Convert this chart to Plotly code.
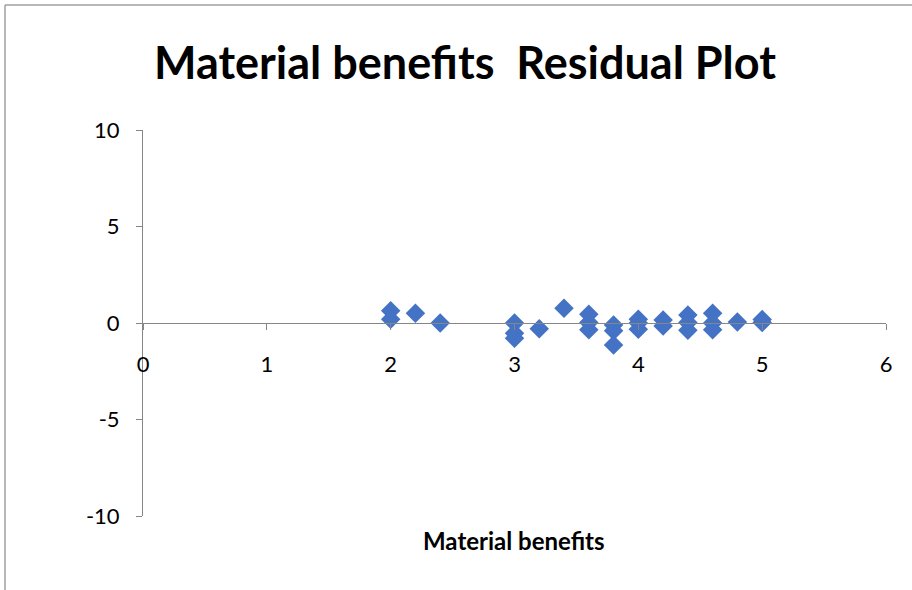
import plotly.graph_objects as go

# Material benefits values and their regression residuals
material_benefits = [2.0, 2.0, 2.2, 2.4, 3.0, 3.0, 3.0, 3.2, 3.4,
                     3.6, 3.6, 3.6, 3.8, 3.8, 3.8, 4.0, 4.0, 4.0,
                     4.2, 4.2, 4.4, 4.4, 4.4, 4.6, 4.6, 4.6, 4.8, 5.0, 5.0]
residuals = [0.64, 0.19, 0.5, 0.0, 0.0, -0.53, -0.79, -0.3, 0.76,
             0.45, 0.02, -0.35, -0.1, -0.4, -1.14, 0.19, 0.0, -0.33,
             0.16, -0.16, 0.41, 0.03, -0.38, 0.5, 0.0, -0.35, 0.05, 0.18, 0.02]

x_ticks = [0, 1, 2, 3, 4, 5, 6]
y_ticks = [-10, -5, 0, 5, 10]

W, H = 912, 590
L, R, T, B = 143, 26, 130, 74
pw, ph = W - L - R, H - T - B


def px(x):
    return (x - L) / pw


def py(y):
    return (H - B - y) / ph


axis_color = "#868686"
font_family = "Lato, Open Sans, Arial"

fig = go.Figure()
fig.add_trace(go.Scatter(
    x=material_benefits, y=residuals, mode="markers",
    marker=dict(symbol="diamond", size=15, color="#4472C4",
                line=dict(width=0)),
    showlegend=False,
))

fig.update_layout(
    width=W, height=H,
    margin=dict(l=L, r=R, t=T, b=B),
    paper_bgcolor="white", plot_bgcolor="white",
    font=dict(family=font_family, color="#000000"),
    xaxis=dict(
        range=[0, 6], tickvals=x_ticks, ticktext=[str(v) for v in x_ticks],
        showgrid=False, zeroline=False, showline=True, linecolor=axis_color,
        linewidth=1, ticks="outside", ticklen=6, tickcolor=axis_color,
        anchor="free", position=0.5, ticklabelstandoff=16,
        tickfont=dict(size=22, family=font_family),
    ),
    yaxis=dict(
        range=[-10, 10], tickvals=y_ticks, ticktext=[str(v) for v in y_ticks],
        showgrid=False, zeroline=False, showline=True, linecolor=axis_color,
        linewidth=1, ticks="outside", ticklen=6, tickcolor=axis_color,
        ticklabelstandoff=12,
        tickfont=dict(size=22, family=font_family),
    ),
    annotations=[
        dict(text="<b>Material benefits  Residual Plot</b>", x=px(465), y=py(62),
             xref="paper", yref="paper", showarrow=False,
             xanchor="center", yanchor="middle",
             font=dict(size=45, family=font_family)),
        dict(text="<b>Material benefits</b>", x=px(514), y=py(540),
             xref="paper", yref="paper", showarrow=False,
             xanchor="center", yanchor="middle",
             font=dict(size=24, family=font_family)),
    ],
    shapes=[
        dict(type="line", xref="paper", yref="paper",
             x0=px(5), x1=px(5), y0=py(5), y1=py(H + 5),
             line=dict(color="#A0A0A0", width=1.5)),
        dict(type="line", xref="paper", yref="paper",
             x0=px(5), x1=px(W + 5), y0=py(5), y1=py(5),
             line=dict(color="#A0A0A0", width=1.5)),
    ],
)

fig.write_html("out.html")
